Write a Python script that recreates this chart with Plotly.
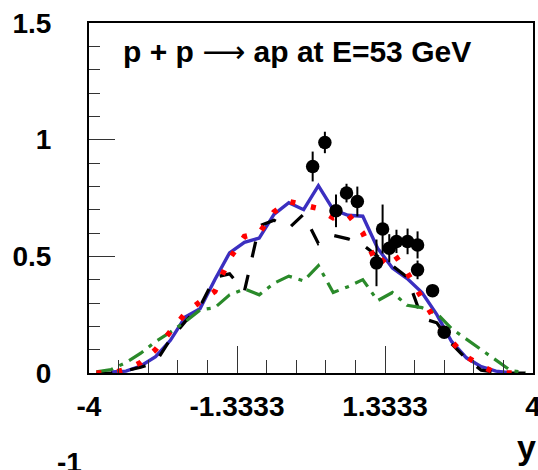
import plotly.graph_objects as go

# Rapidity bin centres of the model histograms (30 bins on -4..4)
y_bins = [-3.867, -3.6, -3.333, -3.067, -2.8, -2.533, -2.267, -2.0, -1.733, -1.467,
          -1.2, -0.933, -0.667, -0.4, -0.133, 0.133, 0.4, 0.667, 0.933, 1.2,
          1.467, 1.733, 2.0, 2.267, 2.533, 2.8, 3.067, 3.333, 3.6, 3.867]

# Model curves, dN/dy per bin
model_solid = [0.000, 0.004, 0.008, 0.030, 0.070, 0.140, 0.240, 0.275, 0.400, 0.515,
               0.560, 0.578, 0.680, 0.730, 0.700, 0.803, 0.700, 0.676, 0.672, 0.535,
               0.450, 0.405, 0.345, 0.250, 0.135, 0.065, 0.027, 0.008, 0.001, 0.000]
model_dashed = [0.000, 0.000, 0.010, 0.025, 0.045, 0.145, 0.220, 0.285, 0.410, 0.425,
                0.350, 0.630, 0.655, 0.620, 0.680, 0.555, 0.590, 0.575, 0.550, 0.500,
                0.460, 0.410, 0.235, 0.215, 0.125, 0.060, 0.012, 0.003, 0.000, 0.000]
model_dotted = [0.000, 0.000, 0.015, 0.045, 0.100, 0.175, 0.255, 0.305, 0.350, 0.490,
                0.585, 0.600, 0.690, 0.735, 0.720, 0.705, 0.665, 0.680, 0.600, 0.460,
                0.520, 0.430, 0.320, 0.215, 0.135, 0.070, 0.030, 0.000, 0.000, 0.000]
model_dashdot = [0.005, 0.015, 0.045, 0.085, 0.135, 0.175, 0.220, 0.270, 0.280, 0.335,
                 0.360, 0.335, 0.385, 0.415, 0.395, 0.460, 0.345, 0.370, 0.400, 0.310,
                 0.345, 0.290, 0.280, 0.255, 0.190, 0.145, 0.100, 0.055, 0.010, 0.003]

# Measured points with errors
data_y = [0.03, 0.25, 0.45, 0.64, 0.835, 1.18, 1.29, 1.41, 1.54, 1.74, 1.92, 1.92, 2.19, 2.40]
data_val = [0.885, 0.988, 0.695, 0.771, 0.735, 0.472, 0.617, 0.535, 0.564, 0.564,
            0.549, 0.442, 0.353, 0.175]
data_err = [0.064, 0.046, 0.070, 0.040, 0.064, 0.100, 0.105, 0.060, 0.050, 0.055,
            0.058, 0.040, 0.015, 0.015]

x_ticks = [-4, -4 / 3, 4 / 3, 4]
x_ticktext = ["-4", "-1.3333", "1.3333", "4"]
y_ticks = [0, 0.5, 1, 1.5]
y_ticktext = ["0", "0.5", "1", "1.5"]

FONT = "Liberation Sans, Arial, Helvetica, sans-serif"

fig = go.Figure()

fig.add_trace(go.Scatter(x=y_bins[1:-1], y=model_solid[1:-1], mode="lines",
                         line=dict(color="#3b2fc0", width=3.4)))
fig.add_trace(go.Scatter(x=y_bins, y=model_dashed, mode="lines",
                         line=dict(color="black", width=3.2, dash="16px,18px")))
fig.add_trace(go.Scatter(x=y_bins, y=model_dashdot, mode="lines",
                         line=dict(color="#2a8a2a", width=3.2, dash="17px,7px,4px,7px")))
fig.add_trace(go.Scatter(x=y_bins, y=model_dotted, mode="lines",
                         line=dict(color="#ff0000", width=5.5, dash="5px,16px")))
fig.add_trace(go.Scatter(x=data_y, y=data_val, mode="markers",
                         marker=dict(color="black", size=13.5),
                         error_y=dict(type="data", array=data_err, color="black",
                                      thickness=2, width=0)))

fig.update_layout(
    width=538, height=470,
    margin=dict(l=89, r=5, t=23, b=97),
    paper_bgcolor="white", plot_bgcolor="white",
    showlegend=False,
    font=dict(family=FONT, color="black"),
)

fig.update_xaxes(
    range=[-4, 4], tickvals=x_ticks, ticktext=x_ticktext,
    ticks="inside", ticklen=27, tickwidth=1, tickcolor="#333",
    minor=dict(ticks="inside", ticklen=13, tick0=-4, dtick=8 / 15,
               tickwidth=1, tickcolor="#333"),
    showline=True, linewidth=2, linecolor="black", mirror=True,
    showgrid=False, zeroline=False, automargin=False,
    tickfont=dict(family=FONT, size=28, weight="bold"),
    ticklabelstandoff=7, ticklabeloverflow="allow",
)
fig.update_yaxes(
    range=[0, 1.5], tickvals=y_ticks, ticktext=y_ticktext,
    ticks="inside", ticklen=26, tickwidth=1, tickcolor="#333",
    minor=dict(ticks="inside", ticklen=11, dtick=0.1,
               tickwidth=1, tickcolor="#333"),
    showline=True, linewidth=2, linecolor="black", mirror=True,
    showgrid=False, zeroline=False, automargin=False,
    tickfont=dict(family=FONT, size=28, weight="bold"),
    ticklabelstandoff=30, ticklabeloverflow="allow",
)

title_text = ("p + p <span style=\"font-family:DejaVu Sans;font-weight:normal\">\u27f6</span>"
              " ap at E=53 GeV")
fig.add_annotation(text=title_text, xref="paper", yref="paper",
                   x=(121 - 89) / 444, y=(373 - 52) / 349.7, xanchor="left", yanchor="middle",
                   showarrow=False, font=dict(family=FONT, size=30, weight="bold"))
fig.add_annotation(text="y", xref="paper", yref="paper",
                   x=(538 - 89) / 444, y=(373 - 447) / 349.7, xanchor="right", yanchor="middle",
                   showarrow=False, font=dict(family=FONT, size=34, weight="bold"))
fig.add_annotation(text="-1", xref="paper", yref="paper",
                   x=(55 - 89) / 444, y=(373 - 445) / 349.7, xanchor="left", yanchor="top",
                   showarrow=False, font=dict(family=FONT, size=28, weight="bold"))

fig.write_html("out.html")
